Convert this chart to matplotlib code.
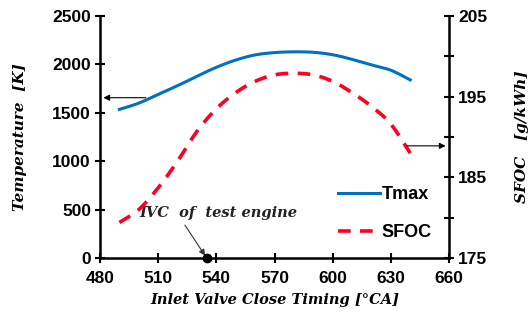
import matplotlib
matplotlib.use("Agg")
import matplotlib.pyplot as plt
import numpy as np
from matplotlib.ticker import MultipleLocator, FixedLocator
from matplotlib.font_manager import FontProperties

ivc = [490, 500, 510, 520, 530, 540, 550, 560, 570, 580, 590, 600, 610, 620, 630, 640]
tmax = [1535, 1600, 1690, 1780, 1878, 1970, 2045, 2098, 2122, 2130, 2125, 2100, 2052, 1995, 1940, 1840]
sfoc = [179.4, 181.0, 183.7, 187.0, 190.7, 193.5, 195.5, 196.9, 197.7, 197.9, 197.7, 196.9, 195.5, 193.8, 191.6, 188.0]

x_ticks = [480, 510, 540, 570, 600, 630, 660]
t_ticks = [0, 500, 1000, 1500, 2000, 2500]
s_ticks = [175, 185, 195, 205]
test_ivc = 535


def smooth(x, y, n=12):
    """Catmull-Rom curve through the points (like Excel's smoothed line)."""
    x = np.asarray(x, float)
    y = np.asarray(y, float)
    px = np.concatenate([[2 * x[0] - x[1]], x, [2 * x[-1] - x[-2]]])
    py = np.concatenate([[2 * y[0] - y[1]], y, [2 * y[-1] - y[-2]]])
    xs, ys = [], []
    t = np.linspace(0, 1, n, endpoint=False)
    for i in range(1, len(px) - 2):
        for arr, out in ((px, xs), (py, ys)):
            p0, p1, p2, p3 = arr[i - 1], arr[i], arr[i + 1], arr[i + 2]
            out.extend(0.5 * ((2 * p1) + (-p0 + p2) * t + (2 * p0 - 5 * p1 + 4 * p2 - p3) * t ** 2
                              + (-p0 + 3 * p1 - 3 * p2 + p3) * t ** 3))
    xs.append(x[-1])
    ys.append(y[-1])
    return np.array(xs), np.array(ys)


fig = plt.figure(figsize=(5.29, 3.29), dpi=100)
ax = fig.add_axes([100/529, 1-258/329, 349/529, 242/329])
ax2 = ax.twinx()

tick_fp = FontProperties(family="Liberation Sans", weight="bold", size=12.5)
label_font = dict(family="DejaVu Serif", style="italic", weight="bold", size=10.5)

sx, sy = smooth(ivc, tmax)
l1, = ax.plot(sx, sy, color="#0070C0", lw=2.2, label="Tmax")
sx2, sy2 = smooth(ivc, sfoc)
l2, = ax2.plot(sx2, sy2, color="#FF0022", lw=2.6, ls=(0, (3.5, 2.6)), label="SFOC")

ax.set_xlim(480, 660)
ax.set_ylim(0, 2500)
ax2.set_ylim(175, 205)
ax.set_xticks(x_ticks)
ax.set_yticks(t_ticks)
ax2.yaxis.set_major_locator(FixedLocator(s_ticks))
ax2.yaxis.set_minor_locator(MultipleLocator(5))

for a in (ax, ax2):
    a.spines["top"].set_visible(False)
    for s in a.spines.values():
        s.set_linewidth(1.8)
    a.tick_params(direction="inout", length=7, width=1.5)
    a.tick_params(which="minor", direction="inout", length=7, width=1.5)
ax2.spines["left"].set_visible(False)
ax2.spines["bottom"].set_visible(False)
ax.spines["right"].set_visible(False)

for lab in ax.get_xticklabels() + ax.get_yticklabels() + ax2.get_yticklabels():
    lab.set_fontproperties(tick_fp)
ax.tick_params(axis="x", pad=6)
ax.tick_params(axis="y", pad=3)
ax2.tick_params(axis="y", pad=3)

ax.set_xlabel("Inlet Valve Close Timing [°CA]", fontdict=label_font, labelpad=5)
ax.set_ylabel("Temperature  [K]", fontdict=dict(label_font, size=11), labelpad=18)
ax2.set_ylabel("SFOC   [g/kWh]", fontdict=dict(label_font, size=11), labelpad=20)

# arrows pointing to the axes
ax.annotate("", xy=(480.3, 1656), xytext=(505, 1656),
            arrowprops=dict(arrowstyle="-|>", color="black", lw=0.8, mutation_scale=9))
ax2.annotate("", xy=(659.7, 188.9), xytext=(637, 188.9),
             arrowprops=dict(arrowstyle="-|>", color="black", lw=0.8, mutation_scale=9))

# IVC of test engine
ax.plot([test_ivc], [0], "o", color="black", ms=6, clip_on=False, zorder=5)
ax.text(500.5, 465, "IVC  of  test engine", fontsize=10.5, family="DejaVu Serif",
        style="italic", weight="bold", va="center", ha="left", color="#222222")
ax.annotate("", xy=(test_ivc, 0), xytext=(523.8, 340),
            arrowprops=dict(arrowstyle="-|>", color="#333333", lw=0.8, mutation_scale=9,
                            shrinkA=0, shrinkB=2),
            annotation_clip=False)

leg = ax.legend([l1, l2], ["Tmax", "SFOC"], loc="lower right", bbox_to_anchor=(1.0, 0.0),
                frameon=False, prop=dict(family="Liberation Sans", weight="bold", size=13),
                handlelength=2.3, handletextpad=0.1, labelspacing=1.15, borderaxespad=0.55)

fig.savefig("out.png", dpi=100)
